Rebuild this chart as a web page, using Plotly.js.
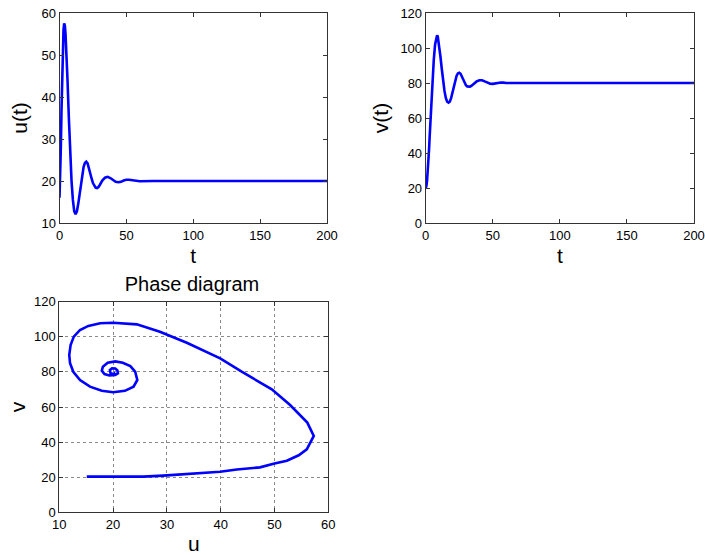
<!DOCTYPE html>
<html>
<head>
<meta charset="utf-8">
<script src="https://cdn.plot.ly/plotly-3.0.1.min.js"></script>
<style>html,body{margin:0;padding:0;background:#fff;}#chart{width:705px;height:555px;}</style>
</head>
<body>
<div id="chart"></div>
<script>
// u(t) time series
const tU = [0,0.5,1,1.5,2,2.5,3,3.5,4,4.5,5,6,7,8,9,10,11,12,13,14,15,16,17,18,19,20,21,22,23,24,25,26,27,28,29,30,32,34,36,38,40,42,44,46,48,50,52,54,56,60,70,100,150,200];
const uVals = [16,20,28,37,45,52,56,57.5,57,55,52,44,35,27,20,15.5,12.8,12.1,12.8,14.5,16.8,19.3,21.6,23.3,24.3,24.6,24.2,23.2,21.9,20.6,19.5,18.8,18.4,18.3,18.5,19,20.1,20.8,21,20.7,20.2,19.8,19.7,19.8,20.1,20.3,20.3,20.2,20.05,19.95,20,20,20,20];

// v(t) time series
const tV = [0,0.5,1,1.5,2,2.5,3,3.5,4,5,6,7,8,8.5,9,10,11,12,13,14,15,16,17,18,19,20,21,22,23,24,25,26,27,28,29,30,31,32,33,34,36,38,40,41,42,44,46,48,50,52,54,56,58,60,80,100,150,200];
const vVals = [20,21,24,29,35,42,50,58,66,80,93,102,107,107.3,106.5,102,95,88,81,75.5,71.5,69.3,68.8,69.5,71.5,74.5,78,81.5,84,85.5,85.9,85.3,83.8,81.8,80,78.7,78,77.8,77.9,78.3,79.6,80.9,81.6,81.7,81.6,80.9,80.1,79.6,79.5,79.8,80.1,80.3,80.2,80,80,80,80,80];

// Phase diagram trajectory
const phaseU = [15.1,20,25.6,29.3,33.7,39.9,43,47.3,50,52.3,54.5,56,57.3,56.1,52.9,49.5,43.9,39.9,33.7,28.7,24.4,20.0,17.6,15.4,13.85,12.7,12.1,11.85,12.0,12.6,13.85,15.7,17.9,20.0,22.2,23.8,24.5,24.1,23.2,21.8,20.4,19.0,18.1,17.9,18.4,19.3,20.4,20.9,20.8,20.4,19.8,19.4,19.5,20.0,20.4];
const phaseV = [20.3,20.1,20.3,20.9,21.8,23.1,24.4,25.6,27.8,29.4,32.5,35.9,43.5,51.1,61.1,70.1,80.1,87.7,96.6,102.9,107.1,108.0,107.7,106.2,103.9,100.1,95.3,89.6,84.9,80.1,75.4,71.6,69.3,68.4,69.2,71.6,75.4,80.1,83.3,85.2,86.0,85.2,83.0,80.7,78.8,78.0,78.2,79.2,80.8,81.9,82.0,81.0,79.4,78.7,79.6];

const blue = '#0000ff';
const lineStyle = {color: blue, width: 2.6};
const font = 'Liberation Sans, Arial, sans-serif';

const traces = [
  {x: tU, y: uVals, type: 'scatter', mode: 'lines', line: lineStyle, xaxis: 'x', yaxis: 'y', hoverinfo: 'skip'},
  {x: tV, y: vVals, type: 'scatter', mode: 'lines', line: lineStyle, xaxis: 'x2', yaxis: 'y2', hoverinfo: 'skip'},
  {x: phaseU, y: phaseV, type: 'scatter', mode: 'lines', line: lineStyle, xaxis: 'x3', yaxis: 'y3', hoverinfo: 'skip'}
];

function ax(extra) {
  return Object.assign({
    showline: true, linecolor: '#333', linewidth: 1, mirror: 'ticks',
    ticks: 'inside', ticklen: 4, tickcolor: '#333', tickwidth: 1,
    showgrid: false, zeroline: false,
    tickfont: {family: font, size: 13, color: '#000'}
  }, extra);
}
const titleFont = {family: font, size: 21, color: '#000'};

const layout = {
  width: 705, height: 555,
  margin: {l: 0, r: 0, t: 0, b: 0},
  paper_bgcolor: '#fff', plot_bgcolor: '#fff',
  showlegend: false,
  font: {family: font, color: '#000'},
  title: {text: 'Phase diagram', font: {family: font, size: 20, color: '#000'},
          x: 192 / 705, xanchor: 'center', y: 1 - 284 / 555, yanchor: 'middle', xref: 'paper', yref: 'paper'},
  xaxis: ax({domain: [59.5/705, 327/705], range: [0, 200], tickvals: [0,50,100,150,200], anchor: 'y',
             title: {text: 't', font: titleFont, standoff: 6}}),
  yaxis: ax({domain: [1-223/555, 1-13/555], range: [10, 60], tickvals: [10,20,30,40,50,60], anchor: 'x',
             title: {text: 'u(t)', font: titleFont, standoff: 8}}),
  xaxis2: ax({domain: [425.7/705, 694/705], range: [0, 200], tickvals: [0,50,100,150,200], anchor: 'y2',
             title: {text: 't', font: titleFont, standoff: 6}}),
  yaxis2: ax({domain: [1-223/555, 1-13/555], range: [0, 120], tickvals: [0,20,40,60,80,100,120], anchor: 'x2',
             title: {text: 'v(t)', font: titleFont, standoff: 6}}),
  xaxis3: ax({domain: [59.3/705, 328.3/705], range: [10, 60], tickvals: [10,20,30,40,50,60], anchor: 'y3',
             showgrid: true, gridcolor: '#8a8a8a', griddash: 'dot', gridwidth: 1,
             title: {text: 'u', font: titleFont, standoff: 6}}),
  yaxis3: ax({domain: [1-512.3/555, 1-301.7/555], range: [0, 120], tickvals: [0,20,40,60,80,100,120], anchor: 'x3',
             showgrid: true, gridcolor: '#8a8a8a', griddash: 'dot', gridwidth: 1,
             title: {text: 'v', font: titleFont, standoff: 2}})
};

Plotly.newPlot('chart', traces, layout, {staticPlot: true, displayModeBar: false});
</script>
</body>
</html>
